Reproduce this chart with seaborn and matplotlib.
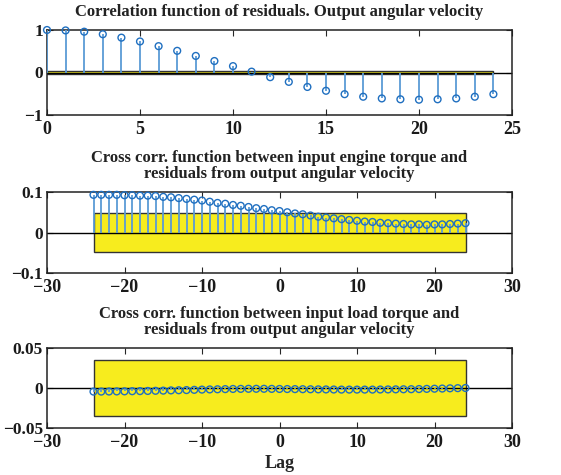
import numpy as np
import pandas as pd
import matplotlib
matplotlib.use("Agg")
import matplotlib.pyplot as plt
import seaborn as sns
from matplotlib.patches import Rectangle

# ---- data ----
lags_auto = list(range(0, 25))
auto_corr = [1.00, 0.99, 0.96, 0.90, 0.82, 0.73, 0.62, 0.51, 0.39, 0.27, 0.15, 0.02,
             -0.11, -0.22, -0.34, -0.43, -0.51, -0.57, -0.61, -0.63, -0.64, -0.63,
             -0.61, -0.57, -0.51]
auto_conf = 0.035

lags_cross = list(range(-24, 25))
cross_engine = [0.093, 0.093, 0.093, 0.093, 0.092, 0.092, 0.091, 0.091, 0.090, 0.088,
                0.087, 0.085, 0.083, 0.081, 0.079, 0.076, 0.073, 0.071, 0.068, 0.066,
                0.063, 0.060, 0.058, 0.055, 0.053, 0.050, 0.047, 0.045, 0.042, 0.039,
                0.037, 0.035, 0.033, 0.031, 0.029, 0.027, 0.026, 0.024, 0.023, 0.022,
                0.021, 0.020, 0.020, 0.019, 0.020, 0.020, 0.021, 0.022, 0.023]
engine_conf = 0.047

cross_load = [-0.0045, -0.0045, -0.0044, -0.0043, -0.0042, -0.0040, -0.0039, -0.0037,
              -0.0035, -0.0033, -0.0030, -0.0028, -0.0026, -0.0023, -0.0020, -0.0018,
              -0.0016, -0.0014, -0.0012, -0.0011, -0.0010, -0.0010, -0.0010, -0.0011,
              -0.0012, -0.0013, -0.0014, -0.0015, -0.0016, -0.0017, -0.0018, -0.0019,
              -0.0020, -0.0020, -0.0020, -0.0020, -0.0020, -0.0019, -0.0018, -0.0017,
              -0.0016, -0.0015, -0.0013, -0.0011, -0.0009, -0.0007, -0.0004, -0.0002, 0.0]
load_conf = 0.0355

titles = ["Correlation function of residuals. Output angular velocity",
          "Cross corr. function between input engine torque and\nresiduals from output angular velocity",
          "Cross corr. function between input load torque and\nresiduals from output angular velocity"]

sns.set_style("ticks")
plt.rcParams['font.family'] = ['Liberation Serif', 'DejaVu Serif']
plt.rcParams['font.weight'] = 'bold'
plt.rcParams['xtick.direction'] = 'in'
plt.rcParams['ytick.direction'] = 'in'

fig = plt.figure(figsize=(5.61, 4.75), dpi=100)
W, H = 561, 475
def ax_at(l, t, r, b):
    return fig.add_axes([l / W, 1 - b / H, (r - l) / W, (b - t) / H])

ax1 = ax_at(47, 30, 512, 115)
ax2 = ax_at(47, 192, 512, 273)
ax3 = ax_at(47, 348, 512, 428)

stem_c = "#5b9bd5"
mark_c = "#1f6fc0"

def draw(ax, lags, vals, conf, xlim, ylim, yticks, xticks, ytl, title):
    ax.add_patch(Rectangle((lags[0], -conf), lags[-1] - lags[0], 2 * conf,
                           facecolor="#f7ec1e", edgecolor="#333333", lw=1.0, zorder=1))
    ax.axhline(0, color="black", lw=1.0, zorder=2)
    ax.vlines(lags, 0, vals, color=stem_c, lw=1.3, zorder=3)
    df = pd.DataFrame({"lag": lags, "val": vals})
    sns.scatterplot(data=df, x="lag", y="val", ax=ax, marker="o", s=24,
                    facecolors="none", edgecolor=mark_c, linewidth=1.0, zorder=4,
                    clip_on=False)
    ax.set_xlim(*xlim)
    ax.set_ylim(*ylim)
    ax.set_xticks(xticks)
    ax.set_yticks(yticks)
    ax.set_yticklabels(ytl)
    ax.set_xlabel("")
    ax.set_ylabel("")
    ax.tick_params(length=4, width=0.8, top=True, right=True, labelcolor="#1a1a1a")
    ax.tick_params(axis='x', pad=4, labelsize=13)
    ax.tick_params(axis='y', pad=3, labelsize=12.5)
    for lab in ax.get_xticklabels() + ax.get_yticklabels():
        lab.set_fontweight('bold')
    for s in ax.spines.values():
        s.set_visible(True)
        s.set_linewidth(1.1)
        s.set_color("#222222")
    ax.set_title(title, fontsize=12, fontweight='bold', pad=10, color="#222222",
                 linespacing=1.05)

draw(ax1, lags_auto, auto_corr, auto_conf, (0, 25), (-1, 1), [-1, 0, 1],
     [0, 5, 10, 15, 20, 25], ["\u22121", "0", "1"], titles[0])
ax1.set_xticklabels(["0", "5", "10", "15", "20", "25"])

draw(ax2, lags_cross, cross_engine, engine_conf, (-30, 30), (-0.1, 0.1),
     [-0.1, 0, 0.1], [-30, -20, -10, 0, 10, 20, 30], ["\u22120.1", "0", "0.1"], titles[1])
ax2.set_xticklabels(["\u221230", "\u221220", "\u221210", "0", "10", "20", "30"])

draw(ax3, lags_cross, cross_load, load_conf, (-30, 30), (-0.05, 0.05),
     [-0.05, 0, 0.05], [-30, -20, -10, 0, 10, 20, 30], ["\u22120.05", "0", "0.05"], titles[2])
ax3.set_xticklabels(["\u221230", "\u221220", "\u221210", "0", "10", "20", "30"])
ax3.set_xlabel("Lag", fontsize=13, fontweight='bold', labelpad=3)

fig.savefig("out.png", dpi=100)
